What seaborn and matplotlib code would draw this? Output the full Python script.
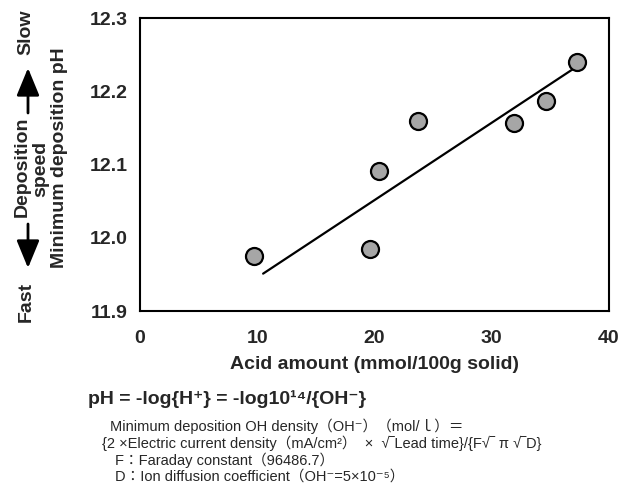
import numpy as np
import pandas as pd
import seaborn as sns
import matplotlib
matplotlib.use('Agg')
import matplotlib.pyplot as plt

# measured points: acid amount vs minimum deposition pH
acid_amount = [9.7, 19.6, 20.4, 23.7, 31.9, 34.6, 37.3]
min_ph = [11.975, 11.984, 12.091, 12.160, 12.156, 12.187, 12.240]

# trend line end points
fit_x = [10.5, 37.0]
fit_y = [11.951, 12.231]

x_ticks = [0, 10, 20, 30, 40]
y_ticks = [11.9, 12.0, 12.1, 12.2, 12.3]

sns.set_style('white')
plt.rcParams['font.family'] = ['Liberation Sans', 'Noto Sans CJK JP', 'DejaVu Sans']

W, H = 635, 490


def px(x, y):
    # pixel position (from top left) -> figure fraction
    return x / W, 1 - y / H


df = pd.DataFrame({'acid': acid_amount, 'ph': min_ph})

fig = plt.figure(figsize=(W / 100, H / 100), dpi=100)
ax = fig.add_axes([140 / W, 179 / H, 469 / W, 293 / H])

sns.lineplot(x=fit_x, y=fit_y, ax=ax, color='black', linewidth=1.6, zorder=2)
sns.scatterplot(data=df, x='acid', y='ph', ax=ax, s=150, color='#a6a6a6',
                edgecolor='black', linewidth=1.6, zorder=3)

ax.set_xlim(0, 40)
ax.set_ylim(11.9, 12.3)
ax.set_xticks(x_ticks)
ax.set_xticklabels([str(v) for v in x_ticks], fontsize=14, fontweight='bold')
ax.set_yticks(y_ticks)
ax.set_yticklabels(['%.1f' % v for v in y_ticks], fontsize=14, fontweight='bold')
ax.tick_params(axis='x', direction='in', length=4, width=1.4, pad=14)
ax.tick_params(axis='y', direction='in', length=4, width=1.4, pad=9)
for sp in ax.spines.values():
    sp.set_visible(True)
    sp.set_color('black')
    sp.set_linewidth(1.5)
ax.set_xlabel('Acid amount (mmol/100g solid)', fontsize=14, fontweight='bold', labelpad=6)
ax.set_ylabel('')

# y axis label block
fig.text(*px(60, 158), 'Minimum deposition pH', rotation=90, ha='center', va='center',
         fontsize=14, fontweight='bold')
fig.text(*px(22, 167), 'Deposition', rotation=90, ha='center', va='center',
         fontsize=14, fontweight='bold')
fig.text(*px(41, 169), 'speed', rotation=90, ha='center', va='center',
         fontsize=14, fontweight='bold')
fig.text(*px(26, 32), 'Slow', rotation=90, ha='center', va='center',
         fontsize=14, fontweight='bold')
fig.text(*px(26, 302), 'Fast', rotation=90, ha='center', va='center',
         fontsize=14, fontweight='bold')

arrow = dict(arrowstyle='-|>,head_length=1.7,head_width=0.7', color='black',
             lw=2, mutation_scale=10, shrinkA=0, shrinkB=0)
fig.add_artist(plt.Annotation('', xy=px(28, 68), xytext=px(28, 113),
                              xycoords='figure fraction', arrowprops=arrow))
fig.add_artist(plt.Annotation('', xy=px(28, 268), xytext=px(28, 224),
                              xycoords='figure fraction', arrowprops=arrow))

# formula notes
fig.text(*px(88, 399), 'pH = -log{H⁺} = -log10¹⁴/{OH⁻}', ha='left', va='center',
         fontsize=14, fontweight='bold')
notes = [
    (110, 426, 'Minimum deposition OH density（OH⁻）（mol/ｌ）＝'),
    (102, 443, '{2 ×Electric current density（mA/cm²）  ×  √‾Lead time}/{F√‾ π √‾D}'),
    (115, 460, 'F：Faraday constant（96486.7）'),
    (115, 477, 'D：Ion diffusion coefficient（OH⁻=5×10⁻⁵）'),
]
for x, y, s in notes:
    fig.text(*px(x, y), s, ha='left', va='center', fontsize=10.5)

fig.savefig('out.png', dpi=100)
